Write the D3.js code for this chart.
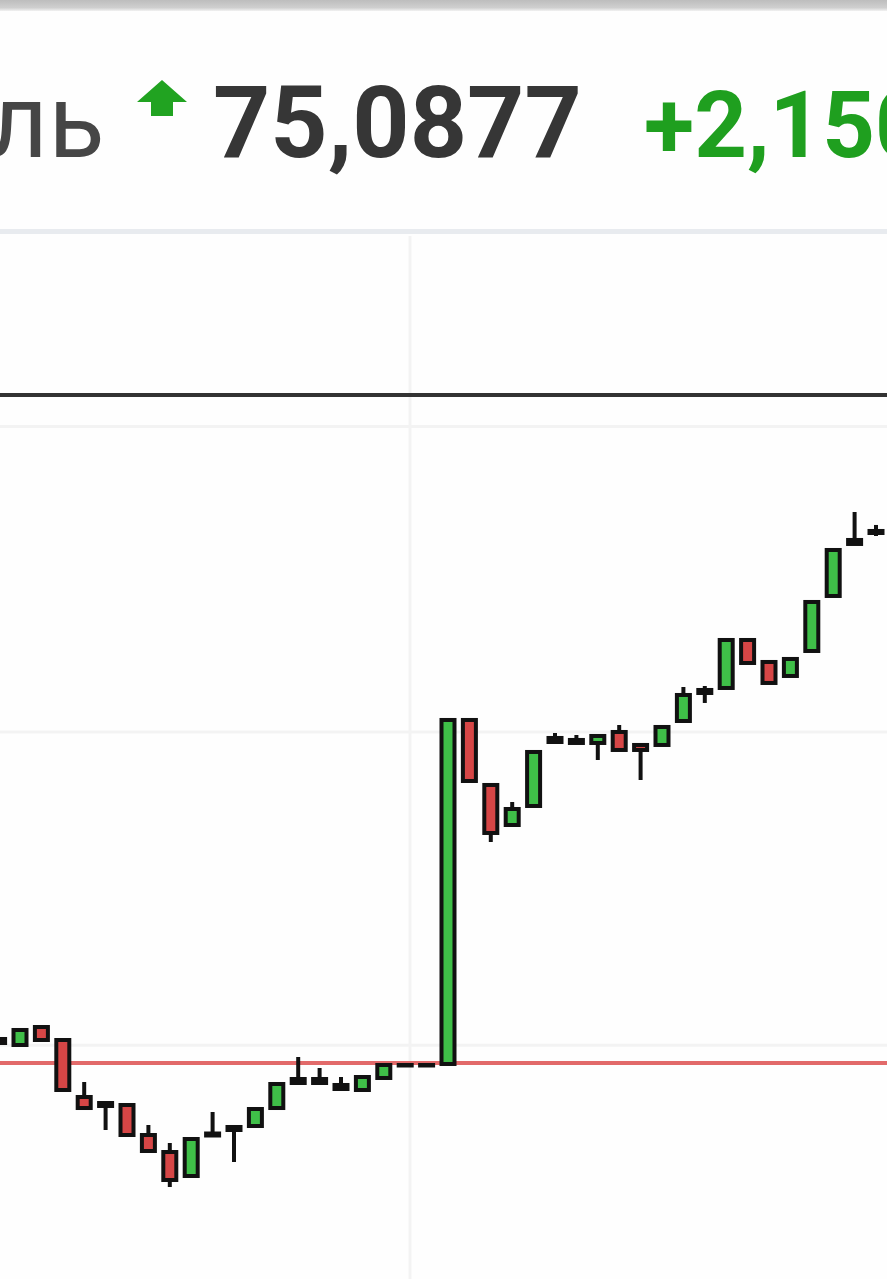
<!DOCTYPE html>
<html><head><meta charset="utf-8">
<script src="https://cdn.jsdelivr.net/npm/d3@7"></script>
<style>html,body{margin:0;padding:0;background:#fff;overflow:hidden}</style>
</head><body>
<svg id="c" width="887" height="1279"></svg>
<script>
// ---- data ----
const times = ["10:00","10:05","10:10","10:15","10:20","10:25","10:30","10:35","10:40","10:45","10:50","10:55",
  "11:00","11:05","11:10","11:15","11:20","11:25","11:30","11:35","11:40","11:45","11:50","11:55",
  "12:00","12:05","12:10","12:15","12:20","12:25","12:30","12:35","12:40","12:45","12:50","12:55",
  "13:00","13:05","13:10","13:15","13:20","13:25"];
const opens = [73.0351,73.0107,73.0837,73.0310,72.7998,72.7754,72.7673,72.6456,72.5766,72.4793,72.6517,72.6781,
  72.6821,72.7551,72.8728,72.8728,72.8485,72.8282,72.8769,72.9296,72.9296,72.9337,74.3292,74.0655,
  73.9032,73.9803,74.2562,74.2481,74.2359,74.2805,74.2278,74.2278,74.3251,74.4509,74.4590,74.6537,
  74.5645,74.5077,74.6091,74.8322,75.0594,75.0959];
const highs = [73.0351,73.0716,73.0837,73.0310,72.8606,72.7754,72.7673,72.6862,72.6132,72.6294,72.7389,72.6781,
  72.7511,72.8525,72.9620,72.9174,72.8809,72.8809,72.9296,72.9296,72.9296,74.3292,74.3292,74.0655,
  73.9965,74.1994,74.2764,74.2683,74.2643,74.3089,74.2278,74.3008,74.4631,74.4671,74.6537,74.6537,
  74.5645,74.5767,74.8079,75.0188,75.1730,75.1203];
const lows = [73.0188,73.0107,73.0310,72.8282,72.7551,72.6659,72.6456,72.5807,72.4347,72.4793,72.6436,72.5361,
  72.6821,72.7551,72.8566,72.8566,72.8322,72.8282,72.8769,72.9296,72.9296,72.9337,74.0817,73.8343,
  73.9032,73.9803,74.2399,74.2359,74.1669,74.2075,74.0858,74.2278,74.3251,74.3982,74.4590,74.5604,
  74.4793,74.5077,74.6091,74.8322,75.0432,75.0756];
const closes = [73.0188,73.0716,73.0310,72.8282,72.7551,72.7633,72.6456,72.5807,72.4631,72.6294,72.6436,72.6659,
  72.7511,72.8525,72.8566,72.8566,72.8322,72.8809,72.9296,72.9296,72.9296,74.3292,74.0817,73.8708,
  73.9681,74.1994,74.2399,74.2359,74.2643,74.2075,74.2075,74.3008,74.4306,74.4387,74.6537,74.5604,
  74.4793,74.5767,74.8079,75.0188,75.0432,75.0877];
const prevClose = 72.9377;
const lastPrice = 75.0877;
const gridPrices = [73.01, 74.28, 75.52];
const headerName = "ль";
const headerPrice = "75,0877";
const headerChange = "+2,150";

// ---- drawing ----
const svg = d3.select("#c");
const W = 887, H = 1279;
const defs = svg.append("defs");
const g1 = defs.append("linearGradient").attr("id","topbar").attr("x1",0).attr("y1",0).attr("x2",0).attr("y2",1);
g1.append("stop").attr("offset","0%").attr("stop-color","#bdbdbd");
g1.append("stop").attr("offset","70%").attr("stop-color","#cfcfcf");
g1.append("stop").attr("offset","100%").attr("stop-color","#f2f2f2");

svg.append("rect").attr("width",W).attr("height",H).attr("fill","#fefefe");
svg.append("rect").attr("x",0).attr("y",0).attr("width",W).attr("height",11).attr("fill","url(#topbar)");

// header
svg.append("text").attr("x",-12).attr("y",157)
  .attr("font-family","Roboto").attr("font-size",104).attr("fill","#464646").text(headerName);
svg.append("path").attr("d","M162,80 L187,102 L173,102 L173,116 L151,116 L151,102 L137,102 Z")
  .attr("fill","#21a321");
svg.append("text").attr("x",213).attr("y",157)
  .attr("font-family","Roboto").attr("font-weight",700).attr("font-size",100).attr("fill","#363636").text(headerPrice);
svg.append("text").attr("x",644).attr("y",157)
  .attr("font-family","Roboto").attr("font-weight",700).attr("font-size",92).attr("fill","#1f9f1f").text(headerChange);

svg.append("rect").attr("x",0).attr("y",229).attr("width",W).attr("height",5).attr("fill","#e8ebef");

// scales
const x = d3.scalePoint().domain(times).range([-1.4, 876]);
const y = d3.scaleLinear().domain([prevClose, lastPrice]).range([1063, 533]);

// grid
svg.append("line").attr("x1",410).attr("x2",410).attr("y1",236).attr("y2",H)
  .attr("stroke","#f3f3f3").attr("stroke-width",3);
svg.selectAll("line.grid").data(gridPrices).enter().append("line").attr("class","grid")
  .attr("x1",0).attr("x2",W).attr("y1",d=>y(d)).attr("y2",d=>y(d))
  .attr("stroke","#f3f3f3").attr("stroke-width",3);

// dark separator
svg.append("rect").attr("x",0).attr("y",393).attr("width",W).attr("height",4).attr("fill","#333");

// previous close line
svg.append("line").attr("x1",0).attr("x2",W).attr("y1",y(prevClose)).attr("y2",y(prevClose))
  .attr("stroke","#e26a6a").attr("stroke-width",4);

// candles
const data = times.map((t,i)=>({t, o:opens[i], h:highs[i], l:lows[i], c:closes[i]}));
const bw = 13;
const cg = svg.append("g");
cg.selectAll("line.wick").data(data).enter().append("line").attr("class","wick")
  .attr("x1",d=>x(d.t)).attr("x2",d=>x(d.t)).attr("y1",d=>y(d.h)).attr("y2",d=>y(d.l))
  .attr("stroke","#111").attr("stroke-width",4);
cg.selectAll("rect.body").data(data).enter().append("rect").attr("class","body")
  .attr("x",d=>x(d.t)-bw/2).attr("width",bw)
  .attr("y",d=>y(Math.max(d.o,d.c)))
  .attr("height",d=>Math.max(0.5, Math.abs(y(d.o)-y(d.c))))
  .attr("fill",d=>d.c>d.o?"#3fbf48":(d.c<d.o?"#d64646":"#111"))
  .attr("stroke","#111").attr("stroke-width",4);
</script>
</body></html>
